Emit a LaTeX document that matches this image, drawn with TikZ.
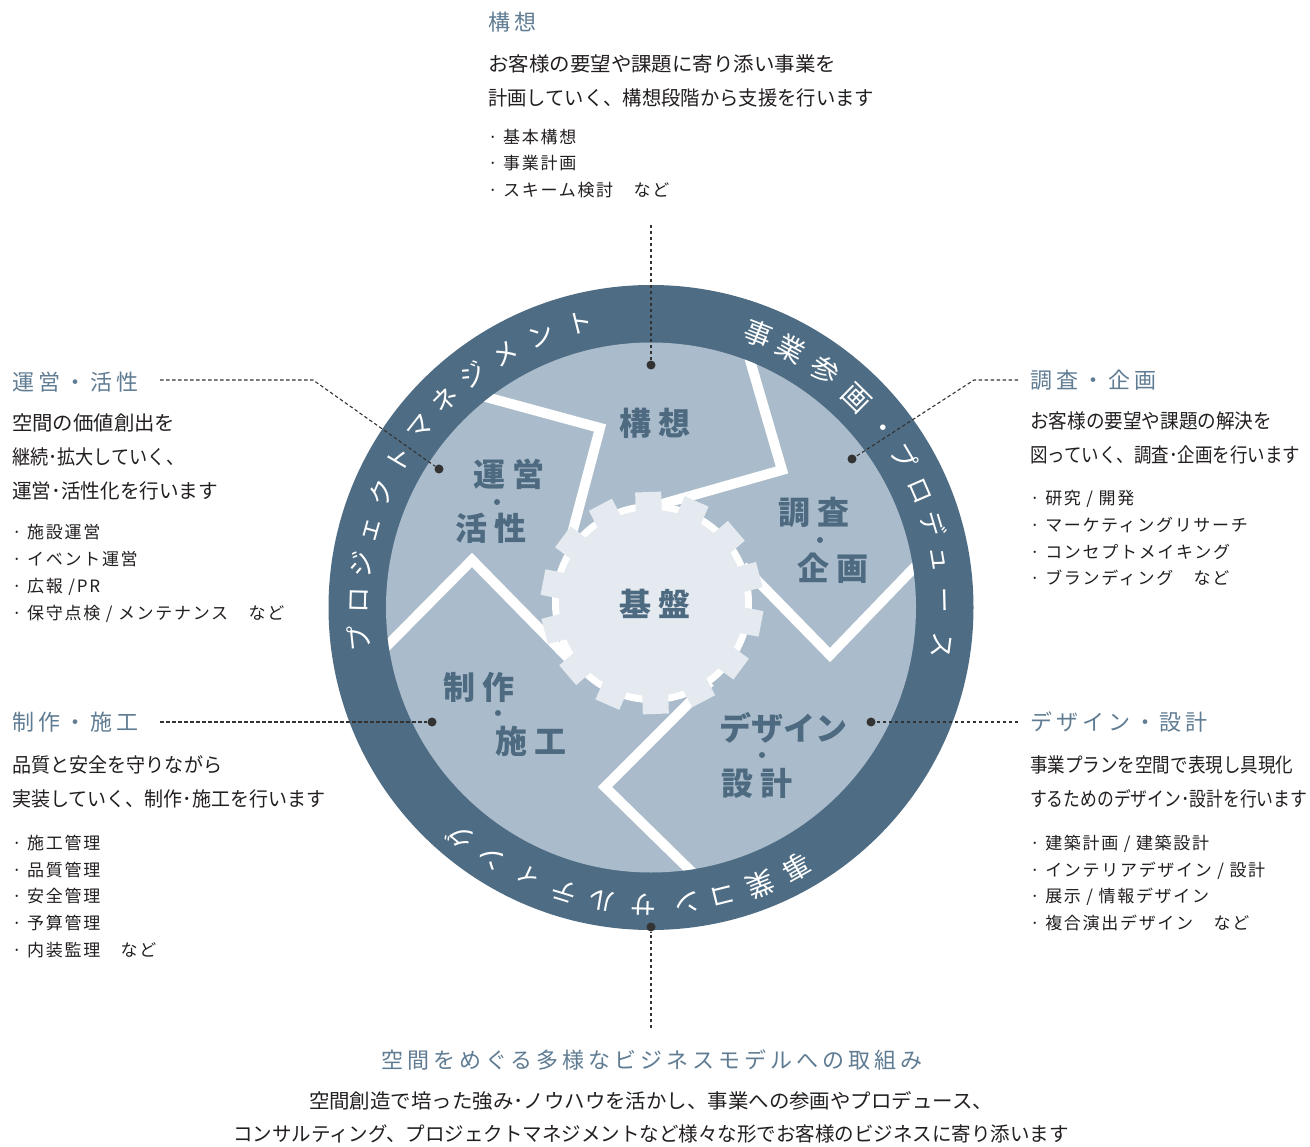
\documentclass[tikz,border=0pt]{standalone}
\usepackage{fontspec}
\newfontfamily\jp{Noto Sans CJK JP}
\newfontfamily\jpsp[LetterSpace=10]{Noto Sans CJK JP}
\newfontfamily\jpwd[LetterSpace=18]{Noto Sans CJK JP}
\newfontfamily\jpsec[LetterSpace=20]{Noto Sans CJK JP}
\newcommand\jpfit[2]{\setbox0=\hbox{#2}\pgfmathsetmacro\jpfitratio{#1/\the\wd0}\scalebox{\jpfitratio}[1]{\box0}}
\definecolor{ringc}{HTML}{4E6C83}
\definecolor{innerc}{HTML}{AABCCB}
\definecolor{gearc}{HTML}{E4EAF0}
\definecolor{labc}{HTML}{4D6A80}
\definecolor{ttlc}{HTML}{5F7C93}
\definecolor{bodyc}{HTML}{231F20}
\definecolor{leadc}{HTML}{333333}
\begin{document}
\begin{tikzpicture}[x=1pt,y=-1pt,
  body/.style={anchor=west, inner sep=0, text=bodyc, font=\jp\fontsize{20}{22}\selectfont, text height=17.6pt, text depth=2.4pt},
  cbody/.style={anchor=center, inner sep=0, text=bodyc, font=\jp\fontsize{20}{22}\selectfont, text height=17.6pt, text depth=2.4pt},
  item/.style={anchor=west, inner sep=0, text=bodyc, font=\jpsp\fontsize{17}{18}\selectfont, text height=15pt, text depth=2pt},
  ttl/.style={anchor=west, inner sep=0, text=ttlc, font=\jpwd\fontsize{22}{24}\selectfont, text height=19.4pt, text depth=2.6pt},
  sec/.style={anchor=center, inner sep=0, text=labc, font=\jpsec\bfseries\fontsize{32}{34}\selectfont, text height=28.2pt, text depth=3.8pt},
  secn/.style={sec, font=\jp\bfseries\fontsize{32}{34}\selectfont},
  rt/.style={anchor=center, inner sep=0, text=white, font=\jp\fontsize{26}{26}\selectfont, text height=22.9pt, text depth=3.1pt},
  rk/.style={anchor=center, inner sep=0, text=white, font=\jp\fontsize{28}{28}\selectfont, text height=24.6pt, text depth=3.4pt},
  ldot/.style={circle, fill=leadc, inner sep=0, minimum size=9pt},
  sdot/.style={circle, fill=labc, inner sep=0, minimum size=6pt},
  leader/.style={draw=leadc, line width=1.1pt, dash pattern=on 3.5pt off 2.5pt},
  divider/.style={draw=white, line width=10pt, miter limit=10}
]
\useasboundingbox (0,0) rectangle (1310,1147);
\fill[white] (0,0) rectangle (1310,1147);

% ring and inner disc
\fill[ringc] (651,607.5) circle (322.5);
\fill[innerc] (651,607.5) circle (265);

% white dividers
\begin{scope}
\clip (651,607.5) circle (265);
\draw[divider] (460,390) -- (600,428) -- (566.7,553.7);
\draw[divider] (745,343) -- (782,470) -- (655,506);
\draw[divider] (935,546) -- (830,655) -- (743,566);
\draw[divider] (710,682) -- (605,787) -- (700,880);
\draw[divider] (375,658) -- (472,560) -- (575,665);
\end{scope}

% gear
\fill[white] (652,603) circle (100);
\begin{scope}[shift={(652,603)}]
\foreach \k in {0,...,13}
  \fill[gearc, rotate={92+\k*360/14}] (86,-13) rectangle (111,13);
\fill[gearc] (0,0) circle (93);
\end{scope}

% sector labels
\node[sec] (s1) at (655,423) {構想};
\node[sec] (s2a) at (509,474) {運営};
\node[sdot] (s2d) at (497,502) {};
\node[sec] (s2b) at (491,528) {活性};
\node[sec] (s3a) at (814,512) {調査};
\node[sdot] (s3d) at (820,540) {};
\node[sec] (s3b) at (833,568) {企画};
\node[sec] (s0) at (655,604) {基盤};
\node[sec] (s5a) at (479,687) {制作};
\node[sdot] (s5d) at (498,713) {};
\node[sec] (s5b) at (531,741) {施工};
\node[secn] (s4a) at (783,728) {デザイン};
\node[sdot] (s4d) at (762,755) {};
\node[sec] (s4b) at (757,783) {設計};

% ring text
\foreach \ch/\t [count=\i] in {プ/186, ロ/178.5, ジ/171.5, ェ/164.5, ク/157, ト/149.5, マ/142, ネ/134.8, ジ/127.5, メ/120, ン/112, ト/104}
  \node[rt, rotate=\t-90] (ra\i) at ({651+293*cos(\t)},{607.5-293*sin(\t)}) {\ch};
\foreach \ch/\t [count=\i] in {事/68.5, 業/61.5, 参/53.8, 画/45.5}
  \node[rk, rotate=\t-90] (rb\i) at ({651+294*cos(\t)},{607.5-294*sin(\t)}) {\ch};
\foreach \ch/\t [count=\i] in {・/37.8, プ/30.8, ロ/23.5, デ/16.5, ュ/9.5, ー/1.5, ス/-7.5}
  \node[rt, rotate=\t-90] (rc\i) at ({651+294*cos(\t)},{607.5-294*sin(\t)}) {\ch};
\foreach \ch/\t [count=\i] in {事/-60.7, 業/-68.5}
  \node[rk, rotate=\t-90] (rd\i) at ({651+298*cos(\t)},{607.5-298*sin(\t)}) {\ch};
\foreach \ch/\t [count=\i] in {コ/-76, ン/-83, サ/-91.5, ル/-99.5, テ/-107, ィ/-114.7, ン/-122.5, グ/-129.8}
  \node[rt, rotate=\t-90] (re\i) at ({651+298*cos(\t)},{607.5-298*sin(\t)}) {\ch};

% leaders
\coordinate (c1) at (651,225);
\node[ldot] (p1) at (651,365) {};
\draw[leader] (c1) -- (p1);
\coordinate (c2) at (160,380);
\coordinate (c2b) at (313,380);
\node[ldot] (p2) at (439,469) {};
\draw[leader] (c2) -- (c2b) -- (p2);
\coordinate (c3) at (1018,380);
\coordinate (c3b) at (974,380);
\node[ldot] (p3) at (852,459) {};
\draw[leader] (c3) -- (c3b) -- (p3);
\coordinate (c4) at (160,722);
\node[ldot] (p4) at (432,722) {};
\draw[leader] (c4) -- (p4);
\coordinate (c5) at (1018,722);
\node[ldot] (p5) at (871,722) {};
\draw[leader] (c5) -- (p5);
\coordinate (c6) at (651,1028);
\node[ldot] (p6) at (651,927) {};
\draw[leader] (c6) -- (p6);

% top block
\node[ttl] (ta) at (488,22) {構想};
\node[body] (tb) at (488,64) {\jpfit{348}{お客様の要望や課題に寄り添い事業を}};
\node[body] (tc) at (488,98) {\jpfit{386}{計画していく、構想段階から支援を行います}};
\node[item] (td) at (488,137) {· 基本構想};
\node[item] (te) at (488,163) {· 事業計画};
\node[item] (tf) at (488,190) {· スキーム検討　など};

% left upper block
\node[ttl] (la) at (12,382) {運営・活性};
\node[body] (lb) at (12,423) {\jpfit{163}{空間の価値創出を}};
\node[body] (lc) at (12,457) {\jpfit{172}{継続･拡大していく、}};
\node[body] (ld) at (12,491) {\jpfit{206}{運営･活性化を行います}};
\node[item] (le) at (12,532) {· 施設運営};
\node[item] (lf) at (12,559) {· イベント運営};
\node[item] (lg) at (12,586) {· 広報 /PR};
\node[item] (lh) at (12,613) {· 保守点検 / メンテナンス　など};

% left lower block
\node[ttl] (ma) at (12,722) {制作・施工};
\node[body] (mb) at (12,765) {\jpfit{210}{品質と安全を守りながら}};
\node[body] (mc) at (12,799) {\jpfit{313}{実装していく、制作･施工を行います}};
\node[item] (md) at (12,843) {· 施工管理};
\node[item] (me) at (12,870) {· 品質管理};
\node[item] (mf) at (12,896) {· 安全管理};
\node[item] (mg) at (12,923) {· 予算管理};
\node[item] (mh) at (12,950) {· 内装監理　など};

% right upper block
\node[ttl] (ra) at (1030,380) {調査・企画};
\node[body] (rb) at (1030,421) {\jpfit{242}{お客様の要望や課題の解決を}};
\node[body] (rc) at (1030,455) {\jpfit{270}{図っていく、調査･企画を行います}};
\node[item] (rd) at (1030,498) {· 研究 / 開発};
\node[item] (re) at (1030,525) {· マーケティングリサーチ};
\node[item] (rf) at (1030,552) {· コンセプトメイキング};
\node[item] (rg) at (1030,578) {· ブランディング　など};

% right lower block
\node[ttl] (qa) at (1030,722) {デザイン・設計};
\node[body] (qb) at (1030,765) {\jpfit{263}{事業プランを空間で表現し具現化}};
\node[body] (qc) at (1030,799) {\jpfit{277}{するためのデザイン･設計を行います}};
\node[item] (qd) at (1030,843) {· 建築計画 / 建築設計};
\node[item] (qe) at (1030,870) {· インテリアデザイン / 設計};
\node[item] (qf) at (1030,896) {· 展示 / 情報デザイン};
\node[item] (qg) at (1030,923) {· 複合演出デザイン　など};

% bottom block
\node[ttl, anchor=center] (ba) at (652,1060) {空間をめぐる多様なビジネスモデルへの取組み};
\node[cbody] (bb) at (651,1101) {\jpfit{684}{空間創造で培った強み･ノウハウを活かし、事業への参画やプロデュース、}};
\node[cbody] (bc) at (651,1134) {\jpfit{836}{コンサルティング、プロジェクトマネジメントなど様々な形でお客様のビジネスに寄り添います}};
\end{tikzpicture}
\end{document}
